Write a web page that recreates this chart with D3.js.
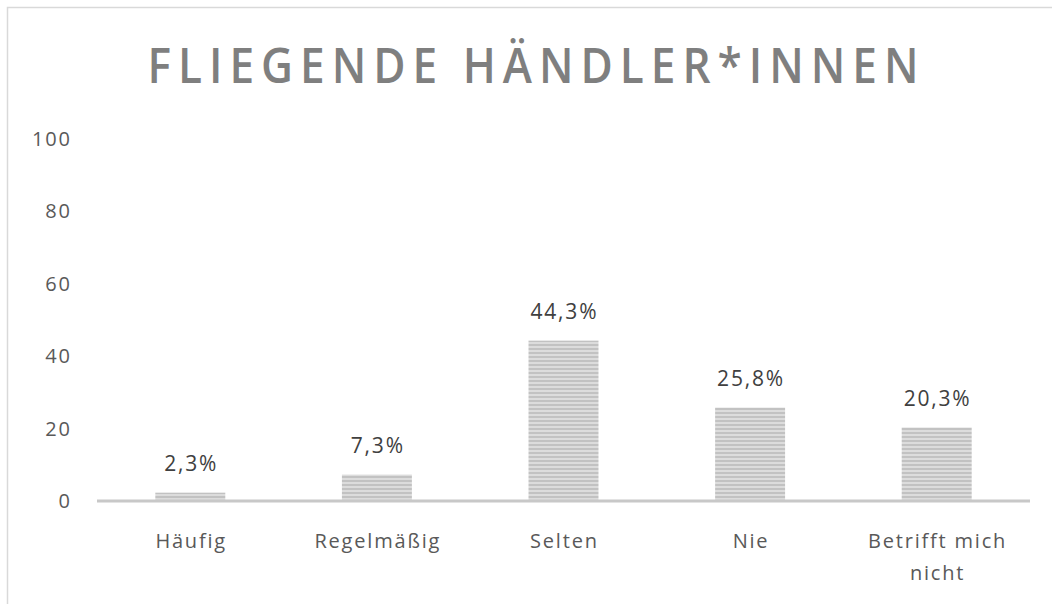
<!DOCTYPE html>
<html><head><meta charset="utf-8">
<script src="https://cdn.jsdelivr.net/npm/d3@7"></script>
<style>body{margin:0;background:#fff}svg{display:block}</style>
</head><body>
<svg id="c" width="1052" height="604"></svg>
<script>
const categories = ["Häufig", "Regelmäßig", "Selten", "Nie", "Betrifft mich nicht"];
const values = [2.3, 7.3, 44.3, 25.8, 20.3];
const valueLabels = ["2,3%", "7,3%", "44,3%", "25,8%", "20,3%"];
const yTicks = [0, 20, 40, 60, 80, 100];
const title = "FLIEGENDE HÄNDLER*INNEN";

const svg = d3.select("#c");
const W = 1052, H = 604;
svg.append("rect").attr("x", 7.5).attr("y", 7.5).attr("width", W + 10).attr("height", H + 10)
  .attr("fill", "#fff").attr("stroke", "#d9d9d9").attr("stroke-width", 1.5);

const defs = svg.append("defs");
const pat = defs.append("pattern").attr("id", "hstripe").attr("patternUnits", "userSpaceOnUse")
  .attr("width", 8).attr("height", 4);
pat.append("rect").attr("width", 8).attr("height", 4).attr("fill", "#dcdcdc");
pat.append("rect").attr("width", 8).attr("height", 2).attr("fill", "#c2c2c2");

const x = d3.scaleBand().domain(categories).range([97, 1030]).paddingInner(0.625).paddingOuter(0.3125);
const y = d3.scaleLinear().domain([0, 100]).range([501, 139]);

const SX = 0.9;
svg.append("text").attr("transform", `translate(533,83) scale(${SX},1)`).attr("text-anchor", "middle")
  .attr("font-family", "Open Sans, sans-serif").attr("font-size", 49).attr("font-weight", 600)
  .attr("fill", "#7f7f7f").attr("textLength", 771 / SX).attr("lengthAdjust", "spacing")
  .text(title);

const LS = 1.8;
const yAxis = d3.axisLeft(y).tickValues(yTicks).tickSize(0).tickPadding(0);
const gy = svg.append("g").attr("transform", `translate(${70 + LS},0)`).call(yAxis);
gy.select(".domain").remove();
gy.selectAll("text").attr("font-family", "Open Sans, sans-serif").attr("font-size", 20)
  .attr("letter-spacing", LS).attr("fill", "#595959");

svg.selectAll("rect.bar").data(values).join("rect").attr("class", "bar")
  .attr("x", (d, i) => x(categories[i])).attr("width", x.bandwidth())
  .attr("y", d => y(d)).attr("height", d => y(0) - y(d))
  .attr("fill", "url(#hstripe)");

svg.append("line").attr("x1", 97).attr("x2", 1030).attr("y1", y(0)).attr("y2", y(0))
  .attr("stroke", "#c8c8c8").attr("stroke-width", 3);

svg.selectAll("text.val").data(values).join("text").attr("class", "val")
  .attr("x", (d, i) => x(categories[i]) + x.bandwidth() / 2 + LS / 2)
  .attr("y", d => y(d) - 22).attr("text-anchor", "middle")
  .attr("font-family", "Open Sans, sans-serif").attr("font-size", 21).attr("letter-spacing", LS)
  .attr("fill", "#404040")
  .text((d, i) => valueLabels[i]);

const xl = svg.selectAll("text.cat").data(categories).join("text").attr("class", "cat")
  .attr("x", d => x(d) + x.bandwidth() / 2 + LS / 2).attr("y", 548).attr("text-anchor", "middle")
  .attr("font-family", "Open Sans, sans-serif").attr("font-size", 20).attr("letter-spacing", LS)
  .attr("fill", "#595959");
xl.each(function(d) {
  const t = d3.select(this);
  const parts = d === "Betrifft mich nicht" ? ["Betrifft mich", "nicht"] : [d];
  parts.forEach((p, k) => t.append("tspan").attr("x", t.attr("x")).attr("dy", k === 0 ? 0 : 32).text(p));
});
</script>
</body></html>
